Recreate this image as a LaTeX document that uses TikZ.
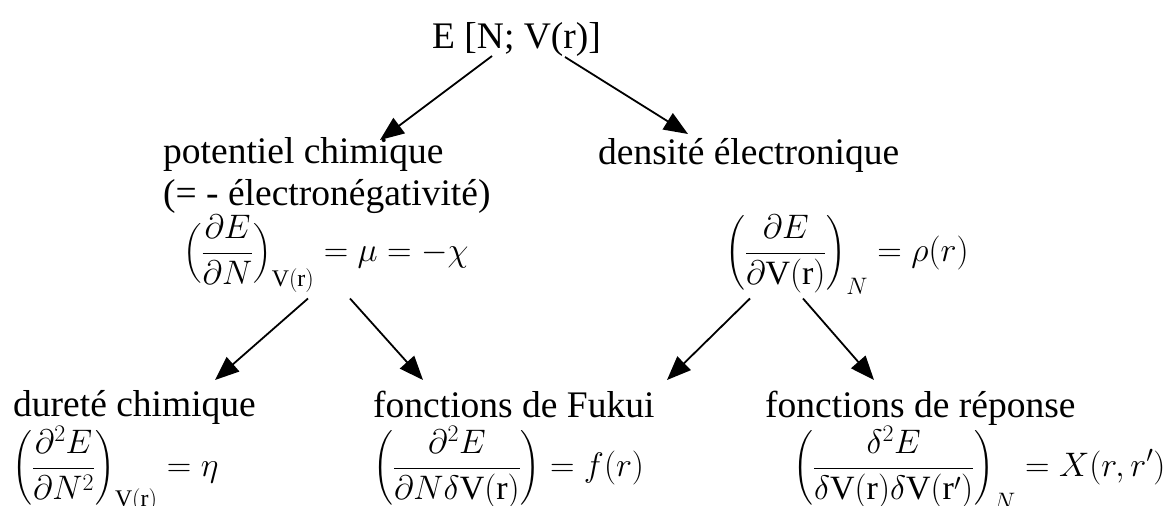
\RequirePackage{fix-cm}
\documentclass[tikz,border=0pt]{standalone}
\usepackage{amsmath}
\usepackage{fontspec}
\setmainfont{Liberation Serif}
\usetikzlibrary{arrows.meta}
\delimiterfactor=750
\delimitershortfall=20pt

\begin{document}
\begin{tikzpicture}[x=1pt,y=-1pt,
  lbl/.style={inner sep=0pt,anchor=base west,font=\fontsize{37.5}{42}\selectfont},
  eq/.style={inner sep=0pt,anchor=base west,font=\fontsize{34}{40}\selectfont},
  arrow/.style={-{Triangle[length=24pt,width=19pt]},line width=1.8pt,draw=black}
]
  \useasboundingbox (0,0) rectangle (1173,506);
  \node[lbl] (energy) at (432,48) {E [N; V(r)]};
  \node[lbl] (potchim) at (163,163) {potentiel chimique};
  \node[lbl] (electroneg) at (163,205) {(= - électronégativité)};
  \node[lbl] (densite) at (598,164) {densité électronique};
  \node[eq] (mueq) at (183,261.5)
    {$\displaystyle\left(\frac{\partial E}{\partial N}\right)_{\mathrm{V(r)}}=\mu=-\chi$};
  \node[eq] (rhoeq) at (725,261.5)
    {$\displaystyle\left(\frac{\partial E}{\partial\mathrm{V(r)}}\right)_{N}=\rho(r)$};
  \node[lbl] (durete) at (13,416) {dureté chimique};
  \node[eq] (etaeq) at (12,476.5)
    {$\displaystyle\left(\frac{\partial^2 E}{\partial N^2}\right)_{\mathrm{V(r)}}=\eta$};
  \node[lbl] (fukui) at (373,417) {fonctions de Fukui};
  \node[eq] (fukuieq) at (373,476.5)
    {$\displaystyle\left(\frac{\partial^2 E}{\partial N\delta\mathrm{V(r)}}\right)=f(r)$};
  \node[lbl] (reponse) at (765,417) {fonctions de réponse};
  \node[eq] (reponseeq) at (793,476.5)
    {$\displaystyle\left(\frac{\delta^2 E}{\delta\mathrm{V(r)}\delta\mathrm{V(r')}}\right)_{N}=X(r,r')$};
  \draw[arrow] ([shift={(60,8)}]energy.base west) -- ([shift={(217,-23)}]potchim.base west);
  \draw[arrow] ([shift={(133,9)}]energy.base west) -- ([shift={(90,-30)}]densite.base west);
  \draw[arrow] ([shift={(125,37)}]mueq.base west) -- ([shift={(202,-36)}]durete.base west);
  \draw[arrow] ([shift={(167,37)}]mueq.base west) -- ([shift={(50,-37)}]fukui.base west);
  \draw[arrow] ([shift={(25,37)}]rhoeq.base west) -- ([shift={(294,-37)}]fukui.base west);
  \draw[arrow] ([shift={(78,37)}]rhoeq.base west) -- ([shift={(109,-37)}]reponse.base west);
\end{tikzpicture}
\end{document}
